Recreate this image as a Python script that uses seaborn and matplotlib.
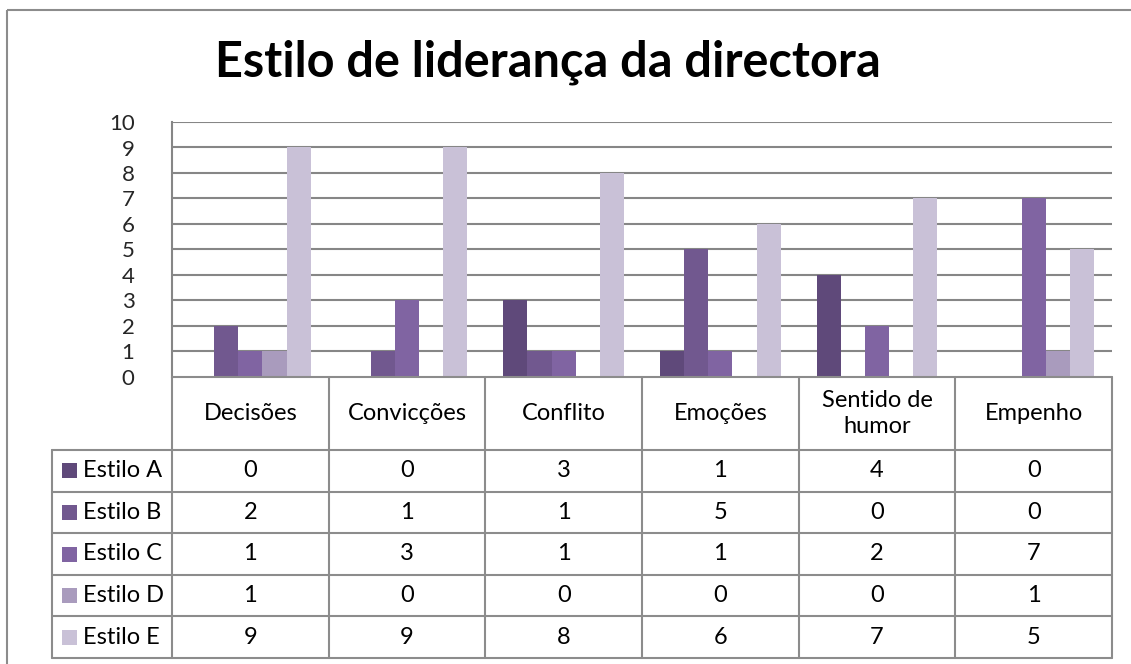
import matplotlib
matplotlib.use("Agg")
import matplotlib.pyplot as plt
import seaborn as sns
import pandas as pd
from matplotlib.patches import Rectangle

categories = ["Decisões", "Convicções", "Conflito", "Emoções", "Sentido de\nhumor", "Empenho"]
series_names = ["Estilo A", "Estilo B", "Estilo C", "Estilo D", "Estilo E"]
estilo_a = [0, 0, 3, 1, 4, 0]
estilo_b = [2, 1, 1, 5, 0, 0]
estilo_c = [1, 3, 1, 1, 2, 7]
estilo_d = [1, 0, 0, 0, 0, 1]
estilo_e = [9, 9, 8, 6, 7, 5]
series_values = [estilo_a, estilo_b, estilo_c, estilo_d, estilo_e]
colors = ["#5F497A", "#71588F", "#8064A2", "#A99BBD", "#C9C1D7"]
y_ticks = list(range(0, 11))
title = "Estilo de liderança da directora"

rows = []
for name, vals in zip(series_names, series_values):
    for c, v in zip(categories, vals):
        rows.append({"cat": c, "estilo": name, "val": v})
df = pd.DataFrame(rows)

sns.set_theme(style="white")
plt.rcParams["font.family"] = ["Lato", "DejaVu Sans"]

W, H = 1131, 664
fig = plt.figure(figsize=(W / 100, H / 100), dpi=100)
fig.patch.set_facecolor("white")

# plot area in pixel layout
px_left, px_right, px_top, px_zero = 172, 1112, 122, 377
ax = fig.add_axes([px_left / W, 1 - px_zero / H, (px_right - px_left) / W, (px_zero - px_top) / H])
sns.barplot(data=df, x="cat", y="val", hue="estilo", palette=colors, width=0.77,
            saturation=1, legend=False, ax=ax, order=categories, hue_order=series_names,
            errorbar=None)
ax.set_xlim(-0.5, len(categories) - 0.5)
ax.set_ylim(0, 10)
ax.set_yticks(y_ticks)
ax.set_yticklabels([str(t) for t in y_ticks], fontsize=16)
ax.tick_params(axis="y", length=0, pad=27)
ax.set_xticks([])
ax.set_xlabel("")
ax.set_ylabel("")
for t in y_ticks[1:]:
    ax.axhline(t, color="#868686", lw=1.5, zorder=0)
for s in ["top", "right", "bottom"]:
    ax.spines[s].set_visible(False)
ax.spines["left"].set_color("#868686")
ax.spines["left"].set_linewidth(1.5)
for p in ax.patches:
    p.set_edgecolor("none")

# overlay for frame, title and data table
ov = fig.add_axes([0, 0, 1, 1], zorder=5)
ov.set_xlim(0, W)
ov.set_ylim(H, 0)
ov.axis("off")
ov.patch.set_alpha(0)

lc = "#8C8C8C"
ov.add_patch(Rectangle((7, 10), W + 20, H + 20, fill=False, edgecolor=lc, lw=1.5))
ov.text(548, 62, title, ha="center", va="center", fontsize=35, fontweight="bold", color="black")

ncat = len(categories)
colw = (px_right - px_left) / ncat
leg_left = 52
header_bottom = 450
row_h = (658 - header_bottom) / len(series_names)
table_bottom = header_bottom + row_h * len(series_names)

# header vertical lines
for i in range(ncat + 1):
    x = px_left + i * colw
    ov.plot([x, x], [px_zero, table_bottom], color=lc, lw=1.5)
ov.plot([px_left, px_right], [px_zero, px_zero], color=lc, lw=1.5)
ov.plot([leg_left, px_right], [header_bottom, header_bottom], color=lc, lw=1.5)
for r in range(1, len(series_names) + 1):
    y = header_bottom + r * row_h
    ov.plot([leg_left, px_right], [y, y], color=lc, lw=1.5)
ov.plot([leg_left, leg_left], [header_bottom, table_bottom], color=lc, lw=1.5)

fs = 17
for i, c in enumerate(categories):
    ov.text(px_left + (i + 0.5) * colw, (px_zero + header_bottom) / 2, c, ha="center", va="center",
            fontsize=fs, color="black", linespacing=1.25)

for r, (name, vals) in enumerate(zip(series_names, series_values)):
    yc = header_bottom + (r + 0.5) * row_h
    ov.add_patch(Rectangle((62, yc - 7.5), 15, 15, facecolor=colors[r], edgecolor="none"))
    ov.text(83, yc, name, ha="left", va="center", fontsize=fs, color="black")
    for i, v in enumerate(vals):
        ov.text(px_left + (i + 0.5) * colw, yc, str(v), ha="center", va="center", fontsize=fs, color="black")

fig.savefig("out.png", dpi=100, facecolor="white")
